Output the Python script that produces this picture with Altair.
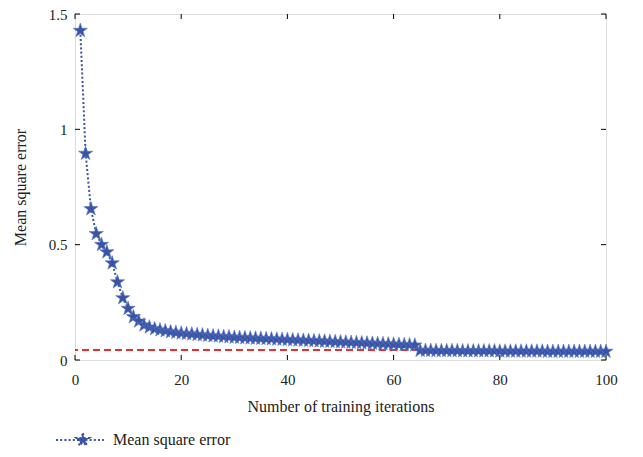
import altair as alt
import pandas as pd

iterations = list(range(1, 101))
mse = [1.428, 0.895, 0.655, 0.547, 0.500, 0.468, 0.420, 0.338, 0.269, 0.223,
       0.187, 0.168, 0.151, 0.142, 0.135, 0.130, 0.126, 0.122, 0.119, 0.116,
       0.114, 0.112, 0.110, 0.108, 0.106, 0.104, 0.103, 0.101, 0.100, 0.098,
       0.097, 0.096, 0.095, 0.094, 0.093, 0.092, 0.091, 0.090, 0.089, 0.088,
       0.087, 0.086, 0.085, 0.084, 0.083, 0.082, 0.081, 0.080, 0.079, 0.078,
       0.077, 0.076, 0.075, 0.074, 0.073, 0.072, 0.071, 0.070, 0.069, 0.068,
       0.067, 0.066, 0.065, 0.064, 0.041, 0.041, 0.041, 0.040, 0.040, 0.040,
       0.040, 0.040, 0.039, 0.039, 0.039, 0.039, 0.039, 0.039, 0.039, 0.038,
       0.038, 0.038, 0.038, 0.038, 0.038, 0.038, 0.038, 0.038, 0.037, 0.037,
       0.037, 0.037, 0.037, 0.037, 0.037, 0.037, 0.037, 0.037, 0.037, 0.037]
goal = [0.043]
x_ticks = [0, 20, 40, 60, 80, 100]
y_ticks = [0, 0.5, 1, 1.5]
series_name = "Mean square error"

W, H = 531, 346
BLUE = "#3953a5"
RED = "#e5312f"
FONT = "Liberation Serif"

STAR = ("M0,-1L0.225,-0.309L0.951,-0.309L0.363,0.118L0.588,0.809L0,0.382"
        "L-0.588,0.809L-0.363,0.118L-0.951,-0.309L-0.225,-0.309Z")
LEGEND_SYMBOL = ("M-1,0H1M0.12,-0.28L0.183,-0.087L0.386,-0.087L0.222,0.033L0.285,0.227"
                 "L0.12,0.107L-0.045,0.227L0.018,0.033L-0.146,-0.087L0.057,-0.087Z")

df = pd.DataFrame({"iter": iterations, "mse": mse, "series": series_name})
goal_df = pd.DataFrame({"goal": goal})
xt_df = pd.DataFrame({"t": x_ticks})
yt_df = pd.DataFrame({"t": y_ticks})

xscale = alt.Scale(domain=[0, 100], nice=False, zero=False)
yscale = alt.Scale(domain=[0, 1.5], nice=False)

xaxis = alt.Axis(values=x_ticks, title="Number of training iterations", grid=False,
                 ticks=False, domain=False, labelPadding=12, titlePadding=11,
                 labelFontSize=15, titleFontSize=16, labelFont=FONT, titleFont=FONT,
                 labelColor="#222", titleColor="#222", titleFontWeight="normal",
                 labelFlush=False, orient="bottom", format="d")
yaxis = alt.Axis(values=y_ticks, title="Mean square error", grid=False,
                 ticks=False, domain=False, labelPadding=8, titlePadding=20,
                 labelFontSize=15, titleFontSize=16, labelFont=FONT, titleFont=FONT,
                 labelColor="#222", titleColor="#222", titleFontWeight="normal",
                 labelFlush=False, orient="left", format=".1~f")

X = lambda f: alt.X(f, scale=xscale, axis=xaxis)
Y = lambda f: alt.Y(f, scale=yscale, axis=yaxis)

line = alt.Chart(df).mark_line(color=BLUE, strokeWidth=2, strokeDash=[2, 2.2]).encode(
    x=X("iter:Q"), y=Y("mse:Q"),
)

points = alt.Chart(df).mark_point(shape=STAR, filled=True, size=225, opacity=1,
                                  stroke="#5d78c4", strokeWidth=0.6).encode(
    x=X("iter:Q"), y=Y("mse:Q"),
    color=alt.Color("series:N", scale=alt.Scale(domain=[series_name], range=[BLUE]),
                    legend=alt.Legend(title=None, orient="none", legendX=-20, legendY=401,
                                      symbolType=LEGEND_SYMBOL, symbolSize=2304,
                                      symbolStrokeWidth=2, symbolDash=[2, 2.2],
                                      symbolStrokeColor=BLUE, symbolFillColor=BLUE,
                                      symbolOpacity=1,
                                      labelFont=FONT, labelFontSize=16, labelColor="#222",
                                      labelOffset=8, padding=0)),
)

goal_rule = alt.Chart(goal_df).mark_rule(color=RED, strokeWidth=2, strokeDash=[7, 4]).encode(
    y=Y("goal:Q")
)

tick_len = 5
xt_bottom = alt.Chart(xt_df).mark_rule(color="black", strokeWidth=1).encode(
    x=X("t:Q"), y=alt.value(H), y2=alt.value(H - tick_len))
xt_top = alt.Chart(xt_df).mark_rule(color="black", strokeWidth=1).encode(
    x=X("t:Q"), y=alt.value(0), y2=alt.value(tick_len))
yt_left = alt.Chart(yt_df).mark_rule(color="black", strokeWidth=1).encode(
    y=Y("t:Q"), x=alt.value(0), x2=alt.value(tick_len))
yt_right = alt.Chart(yt_df).mark_rule(color="black", strokeWidth=1).encode(
    y=Y("t:Q"), x=alt.value(W), x2=alt.value(W - tick_len))

chart = alt.layer(goal_rule, line, points, xt_bottom, xt_top, yt_left, yt_right).properties(
    width=W, height=H,
    autosize=alt.AutoSizeParams(type="none"),
    padding={"left": 67, "top": 6, "right": 29, "bottom": 89},
).configure_view(stroke="black", strokeWidth=1.2).configure(background="white")

chart.save("out.html", embed_options={"renderer": "svg", "actions": False})
